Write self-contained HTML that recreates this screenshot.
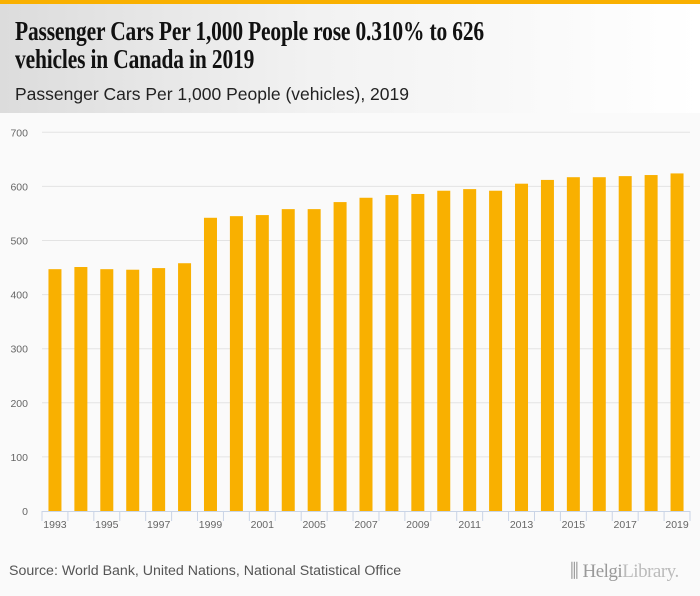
<!DOCTYPE html>
<html><head><meta charset="utf-8"><style>
body{margin:0;width:700px;height:596px;background:#fafafa;font-family:"Liberation Sans",sans-serif;overflow:hidden;position:relative}
#hdr{position:absolute;left:0;top:0;width:700px;height:113px;background:linear-gradient(90deg,#dcdcdc 0%,#f2f2f2 45%,#ffffff 100%);border-top:4px solid #f9b000;box-sizing:border-box}
#title{position:absolute;left:15px;top:13px;font-family:"Liberation Serif",serif;font-weight:bold;font-size:27px;line-height:28px;color:#111;letter-spacing:-0.2px;width:600px;transform:scaleX(0.795);transform-origin:left top;white-space:nowrap}
#sub{position:absolute;left:15px;top:80px;font-size:17.5px;color:#222}
#src{position:absolute;left:9px;top:563px;font-size:14.2px;color:#555}
#logo{position:absolute;left:570px;top:561px;font-family:"Liberation Serif",serif;font-size:19px;color:#999;letter-spacing:-0.5px}
</style></head><body>
<div id="hdr">
<div id="title">Passenger Cars Per 1,000 People rose 0.310% to 626<br>vehicles in Canada in 2019</div>
<div id="sub">Passenger Cars Per 1,000 People (vehicles), 2019</div>
</div>
<svg id="chart" width="700" height="596" style="position:absolute;left:0;top:0"></svg>
<div id="src">Source: World Bank, United Nations, National Statistical Office</div>
<div id="logo">⫼ Helgi<span style="color:#bbb">Library.</span></div>
<script>
const categories=[1993,1994,1995,1996,1997,1998,1999,2000,2001,2004,2005,2006,2007,2008,2009,2010,2011,2012,2013,2014,2015,2016,2017,2018,2019];
const values=[447,451,447,446,449,458,542,545,547,558,558,571,579,584,586,592,595,592,605,612,617,617,619,621,624];
const yTicks=[0,100,200,300,400,500,600,700];
const NS="http://www.w3.org/2000/svg";
const svg=document.getElementById('chart');
const x0=42,x1=690,y0=511,y1=132.3,yMax=700;
const step=(x1-x0)/categories.length;
const yS=v=>y0-(v/yMax)*(y0-y1);
const xS=i=>x0+step*(i+0.5);
function mk(t,a){const e=document.createElementNS(NS,t);for(const k in a)e.setAttribute(k,a[k]);svg.appendChild(e);return e;}
yTicks.forEach(t=>{
  if(t>0){const g=mk('line',{x1:x0,x2:x1,y1:yS(t),y2:yS(t),stroke:'#e3e3e3','stroke-width':1});
  
  }
  const l=mk('text',{x:28,y:yS(t)+4,'text-anchor':'end','font-size':10.5,fill:'#666','font-family':'Liberation Sans, sans-serif'});
  l.textContent=t;
  
  
});
values.forEach((v,i)=>{
  const b=mk('rect',{x:xS(i)-6.5,y:yS(v),width:13,height:y0-yS(v),fill:'#f9b000'});
  
  
});
const ax=mk('line',{x1:x0,x2:x1,y1:y0+0.5,y2:y0+0.5,stroke:'#c9d4e6','stroke-width':1});


for(let i=0;i<=categories.length;i++){
  const tk=mk('line',{x1:x0+step*i,x2:x0+step*i,y1:y0,y2:y0+10,stroke:'#c9d4e6','stroke-width':1});
  
  
}
categories.forEach((c,i)=>{
  if(i%2)return;
  const l=mk('text',{x:xS(i),y:y0+17,'text-anchor':'middle','font-size':10.5,fill:'#666','font-family':'Liberation Sans, sans-serif'});
  l.textContent=c;
  
  
});
</script>
</body></html>
